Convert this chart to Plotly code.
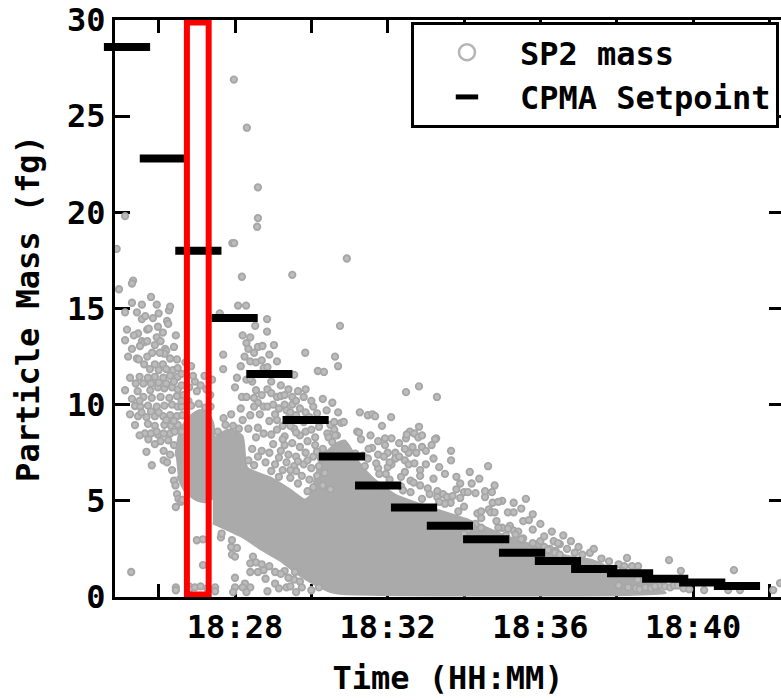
import plotly.graph_objects as go

# Time is expressed in minutes after 18:00
tick_vals = [26, 28, 30, 32, 34, 36, 38, 40, 42]
tick_text = ["", "18:28", "", "18:32", "", "18:36", "", "18:40", ""]
y_ticks = [0, 5, 10, 15, 20, 25, 30]

# CPMA setpoints
cpma_time = [25.17, 26.11, 27.04, 27.99, 28.90, 29.85, 30.80, 31.75, 32.69,
             33.63, 34.58, 35.52, 36.46, 37.41, 38.35, 39.27, 40.24, 41.15]
cpma_mass = [28.6, 22.8, 18.0, 14.5, 11.6, 9.2, 7.3, 5.8, 4.65,
             3.7, 3.0, 2.3, 1.87, 1.46, 1.23, 0.95, 0.76, 0.57]

# Highlighted interval (red box)
box_time = [26.74, 27.31]
box_mass = [0.13, 29.87]

# Saturated (fully overlapping) regions of the SP2 cloud, outline (time, mass)
core_time = [27.42, 27.82, 28.18, 28.31, 28.92, 29.44, 29.83, 30.00, 30.12, 30.35, 30.62, 30.88,
             31.22, 31.59, 32.19, 33.11, 34.16, 35.07, 35.99, 36.65, 37.30, 37.82, 38.35,
             38.87, 39.19, 39.27, 30.75, 30.49, 30.04, 29.62, 29.18, 28.73, 28.21, 27.42]
core_mass = [8.16, 8.68, 8.37, 6.71, 6.19, 5.56, 5.04, 5.30, 6.30, 7.40, 7.90, 8.10,
             7.02, 6.19, 5.30, 4.63, 3.95, 3.17, 2.55, 2.13, 1.92, 1.51, 1.04,
             0.62, 0.30, 0.20, 0.20, 0.30, 0.73, 1.25, 1.92, 2.44, 3.12, 3.85]
left_time = [26.45, 26.55, 26.70, 26.90, 27.10, 27.30, 27.42, 27.42, 27.25, 27.00, 26.70, 26.50]
left_mass = [7.3, 8.5, 9.1, 9.5, 9.7, 9.5, 9.0, 5.2, 4.95, 5.05, 5.5, 6.3]

# Individual SP2 particles (time, mass)
sp2_outliers = [(27.97, 26.9), (28.31, 24.4), (28.6, 21.3), (28.6, 19.7), (28.58, 19.25),
                (27.93, 18.4), (27.98, 18.4), (30.93, 17.6), (28.18, 16.65), (29.5, 16.75),
                (25.12, 19.8), (24.9, 18.1), (25.33, 16.45), (25.28, 1.3), (26.45, 4.68)]
sp2_left = [(24.96, 16.0), (25.30, 16.3), (25.80, 15.6), (25.56, 15.2), (25.43, 14.8), (25.12, 14.8),
            (26.27, 14.9), (26.30, 15.1), (26.22, 14.35), (26.25, 14.2), (25.56, 14.45), (25.17, 13.9),
            (25.46, 13.7), (25.70, 13.9), (25.74, 13.95), (25.98, 14.05), (26.11, 13.75), (25.95, 13.5),
            (25.12, 13.35), (25.56, 13.3), (25.63, 13.25), (25.70, 13.3), (25.51, 13.05), (26.17, 12.9),
            (26.2, 12.8), (26.15, 12.65), (25.2, 12.5), (25.43, 12.4), (25.48, 12.35), (25.70, 12.5),
            (25.83, 12.7), (26.03, 12.7), (26.30, 12.4), (26.48, 12.35), (25.62, 12.1), (25.9, 12.1),
            (26.11, 12.1), (25.77, 11.85), (26.0, 11.8), (26.2, 11.85), (26.38, 11.8), (26.5, 11.9),
            (25.25, 11.4), (25.5, 11.45), (25.72, 11.4), (25.9, 11.45), (26.12, 11.4), (26.3, 11.5),
            (26.5, 11.45), (25.12, 10.75), (25.45, 10.7), (25.78, 10.75), (25.98, 10.9), (26.15, 10.85),
            (26.35, 10.9), (26.5, 10.8), (25.6, 10.4), (25.82, 10.35), (26.05, 10.4), (26.28, 10.35),
            (26.48, 10.45), (25.38, 9.93), (25.52, 9.9), (25.72, 9.95), (25.95, 9.9), (26.15, 9.95),
            (26.35, 10.0), (26.5, 9.9), (25.46, 9.4), (25.68, 9.35), (25.9, 9.4), (26.12, 9.4),
            (26.3, 9.45), (26.48, 9.4), (25.38, 8.94), (25.72, 9.0), (25.9, 8.9), (26.15, 8.95),
            (26.32, 8.9), (26.5, 8.95), (25.64, 8.5), (25.98, 8.45), (26.3, 8.5), (25.5, 8.4),
            (25.8, 8.5), (25.73, 8.2), (25.95, 8.6), (26.13, 8.5), (25.68, 7.55), (26.13, 7.6),
            (26.13, 7.1), (26.22, 7.0), (25.82, 6.85), (26.4, 6.05), (26.44, 5.8), (26.48, 5.35),
            (26.52, 5.1), (26.65, 10.5), (26.8, 10.9), (26.95, 11.2), (27.1, 11.0), (27.25, 10.8),
            (27.35, 10.5), (26.6, 9.9), (27.4, 11.3), (26.9, 11.5), (27.2, 11.5), (27.0, 10.7),
            (26.62, 9.45), (26.78, 10.2), (27.36, 9.9), (26.4, 7.9), (26.42, 8.6), (26.58, 4.95),
            (26.85, 9.95), (27.05, 10.05), (27.22, 9.85), (26.3, 7.4), (26.35, 6.6), (26.62, 5.05),
            (25.9, 7.95), (26.05, 8.1), (26.25, 8.15), (25.3, 12.9), (25.35, 13.6), (25.9, 13.1),
            (26.05, 13.3), (26.4, 13.0), (26.45, 13.6), (25.85, 14.5), (26.0, 14.75), (25.65, 14.6),
            (25.3, 15.3), (25.95, 15.2), (26.4, 11.2), (26.6, 11.0), (26.6, 11.6), (26.7, 12.2),
            (26.85, 12.0), (25.4, 11.1), (25.6, 11.1), (25.8, 11.1), (26.0, 11.15), (26.2, 11.1),
            (25.3, 10.3), (25.5, 10.2), (26.6, 10.2), (25.25, 9.5), (25.55, 9.6), (25.8, 9.65),
            (26.0, 9.6), (26.6, 8.6), (26.2, 9.2), (26.4, 9.15)]
sp2_upper = [(28.08, 15.15), (28.29, 15.15), (27.6, 14.75), (28.84, 14.45), (28.84, 13.8), (30.75, 14.1),
             (28.53, 14.1), (28.2, 13.6), (28.3, 13.2), (28.4, 13.5), (28.35, 12.9), (28.6, 13.0),
             (28.72, 13.05), (29.02, 13.1), (27.69, 12.6), (27.69, 11.85), (28.4, 12.25), (28.55, 12.2),
             (28.7, 12.3), (29.1, 12.25), (28.75, 11.9), (28.85, 11.95), (29.84, 12.7), (30.17, 11.75),
             (30.33, 11.7), (30.62, 12.5), (30.7, 12.0), (29.55, 11.55), (28.3, 11.3), (28.45, 11.2),
             (28.4, 11.35), (28.85, 10.8), (28.95, 10.6), (29.1, 10.4), (29.2, 10.45), (29.3, 10.5),
             (29.5, 10.4), (29.65, 10.7), (29.85, 10.8), (29.8, 10.4), (30.3, 10.3), (28.18, 10.4),
             (28.3, 10.4), (28.5, 10.35), (28.6, 10.1), (28.75, 9.9), (28.85, 9.9), (28.5, 9.9),
             (28.4, 9.45), (28.65, 9.5), (28.2, 9.2), (29.3, 10.0), (29.5, 10.0), (29.35, 9.7),
             (29.7, 9.8), (29.85, 9.6), (30.05, 9.9), (30.3, 9.2), (30.5, 8.95), (30.6, 9.1),
             (29.4, 9.3), (29.8, 9.1), (29.1, 9.2), (29.25, 8.9), (28.35, 8.75), (28.6, 8.8),
             (29.1, 8.7), (29.55, 8.75), (29.85, 8.6), (30.42, 8.5), (30.6, 8.7), (28.95, 8.45),
             (29.3, 8.35), (29.7, 8.4), (30.1, 8.3), (30.45, 8.3), (30.67, 8.4), (29.3, 7.9),
             (29.5, 8.0), (29.7, 7.8), (29.9, 8.1), (30.1, 7.9), (30.3, 7.7), (29.4, 7.4),
             (29.6, 7.3), (29.85, 7.5), (30.05, 7.3), (30.25, 7.2), (29.55, 6.8), (29.8, 6.9),
             (30.0, 6.7), (30.2, 6.8), (29.75, 6.3), (29.95, 6.1), (30.15, 6.3), (30.05, 5.7),
             (30.3, 5.8), (29.2, 7.6), (29.0, 7.95), (30.45, 7.4), (28.6, 7.3), (28.8, 7.0),
             (29.05, 6.9), (28.45, 7.7), (29.25, 6.6), (29.45, 6.2), (29.65, 5.9), (28.9, 7.5),
             (29.15, 7.25), (29.35, 7.0), (28.7, 7.6), (29.6, 6.55), (29.9, 5.5), (28.35, 7.1),
             (28.5, 6.85), (27.75, 8.95), (27.95, 8.9), (28.1, 8.75), (27.55, 8.6), (30.5, 5.6),
             (29.45, 9.6), (29.6, 9.45), (29.95, 9.35), (30.15, 9.55), (30.4, 9.7), (30.2, 8.85),
             (30.0, 8.7), (29.6, 8.55), (29.45, 8.9), (29.05, 9.5), (28.9, 9.15), (29.15, 9.8),
             (28.75, 8.5), (28.55, 8.3), (29.6, 10.2), (30.0, 10.2), (30.55, 10.1), (30.7, 9.6),
             (29.0, 10.0), (28.95, 11.2), (29.2, 11.0), (29.4, 10.8), (28.6, 11.6), (28.9, 12.6),
             (28.5, 12.7), (28.25, 12.5), (28.15, 12.0), (28.05, 11.4), (28.0, 10.9), (28.15, 9.8),
             (27.9, 9.5), (27.7, 9.3), (28.55, 10.75), (28.7, 10.5), (29.9, 7.1), (30.15, 7.55),
             (30.35, 6.45), (29.25, 8.2), (30.55, 8.05), (29.65, 7.05), (29.45, 6.6), (29.15, 6.25),
             (28.95, 6.55)]
sp2_right = [(32.48, 10.65), (32.82, 10.95), (33.29, 10.4), (31.27, 9.6), (31.48, 9.45), (31.6, 9.5),
             (31.67, 9.4), (32.09, 9.35), (31.85, 8.9), (30.78, 9.05), (30.85, 9.1), (31.2, 8.6),
             (31.25, 8.55), (30.62, 8.4), (32.58, 8.6), (32.7, 8.5), (32.8, 8.3), (32.82, 8.85),
             (31.93, 8.25), (32.1, 8.25), (32.48, 8.25), (33.27, 8.25), (31.93, 7.9), (32.5, 8.45),
             (32.9, 8.4), (33.24, 8.2), (31.59, 7.75), (32.0, 7.5), (32.2, 7.5), (32.2, 7.2),
             (32.1, 6.9), (32.0, 6.75), (32.55, 7.5), (32.75, 7.5), (32.45, 7.1), (32.55, 6.9),
             (32.7, 6.95), (32.85, 6.6), (32.85, 6.3), (33.66, 7.6), (33.66, 7.1), (34.63, 6.8),
             (31.48, 7.2), (31.75, 6.7), (31.78, 6.4), (31.95, 6.4), (32.05, 6.1), (32.35, 6.25),
             (32.45, 6.5), (32.6, 6.05), (32.68, 5.95), (32.85, 5.8), (32.35, 5.75), (33.2, 6.15),
             (33.05, 5.65), (33.3, 5.5), (33.45, 5.35), (33.55, 5.2), (33.7, 5.25), (33.3, 5.2),
             (33.1, 5.35), (33.8, 5.6), (34.0, 5.45), (34.1, 5.45), (33.9, 5.15), (33.65, 4.9),
             (34.0, 4.7), (34.35, 4.35), (34.45, 4.45), (34.55, 5.2), (34.73, 5.45), (34.65, 4.55),
             (34.7, 4.4), (34.8, 4.4), (34.75, 4.9), (35.15, 4.4), (35.55, 3.95), (35.62, 5.1),
             (35.2, 3.7), (35.3, 3.45), (35.1, 3.2), (35.0, 3.6), (35.15, 3.55), (35.42, 3.4),
             (35.55, 3.05), (35.5, 3.0), (35.95, 2.75), (36.1, 2.6), (36.25, 2.5), (36.35, 2.9),
             (36.4, 2.4), (35.85, 2.35), (34.3, 3.8), (34.45, 3.6), (34.2, 3.7), (34.1, 3.5),
             (34.0, 3.3), (36.51, 2.75), (36.38, 2.3), (36.51, 2.2), (34.3, 5.4), (34.55, 5.5),
             (35.3, 4.4), (35.7, 4.0), (36.46, 2.8), (31.5, 7.7), (31.75, 7.4), (32.05, 7.0),
             (32.3, 7.3), (32.9, 7.8), (33.0, 7.6), (33.15, 7.9), (36.7, 2.5), (36.9, 2.3),
             (37.1, 2.2), (37.3, 2.3), (37.6, 2.0), (37.8, 1.85), (38.05, 1.7), (31.35, 7.35),
             (31.7, 6.95), (32.4, 5.55), (32.9, 5.1), (33.5, 4.85), (33.85, 4.45), (34.45, 4.1),
             (34.9, 3.6), (35.35, 3.25), (35.8, 2.8), (36.2, 2.45), (33.35, 4.95), (32.6, 5.45),
             (34.85, 3.95), (36.0, 2.9), (31.15, 7.45), (31.4, 6.8), (31.3, 8.2), (31.55, 8.4),
             (31.75, 8.1), (32.3, 8.0), (32.65, 7.8), (31.9, 7.3), (32.45, 7.7), (33.5, 6.4),
             (33.35, 6.75), (33.8, 6.25), (33.9, 5.9), (34.2, 5.9), (34.4, 6.15), (34.8, 5.8),
             (35.0, 5.0), (35.3, 4.9), (35.5, 4.6), (35.8, 4.3), (36.0, 3.8), (36.3, 3.4),
             (36.6, 3.2), (36.8, 2.9), (37.0, 2.6), (37.4, 2.5), (33.0, 6.9), (33.2, 7.2),
             (34.15, 6.5), (34.9, 4.95), (35.8, 3.5), (36.1, 3.15)]
sp2_far = [(38.27, 2.03), (38.2, 1.6), (38.4, 1.6), (38.56, 1.6), (39.37, 1.92), (39.68, 1.36),
           (41.07, 1.4), (39.26, 0.55), (39.1, 0.6), (39.4, 0.5), (39.5, 0.6), (39.6, 0.6),
           (38.5, 0.45), (38.6, 0.4), (38.75, 0.5), (38.9, 0.45), (39.0, 0.55), (38.3, 0.5),
           (38.05, 0.6), (40.29, 0.36), (40.92, 0.36), (41.23, 0.36), (42.1, 0.36), (42.28, 0.72),
           (38.0, 1.2), (38.55, 0.9), (38.7, 1.1), (39.75, 0.45), (39.9, 0.4), (38.15, 1.35),
           (38.45, 1.2), (38.85, 0.85), (39.2, 0.85)]
sp2_low = [(27.0, 2.95), (27.16, 3.0), (27.16, 1.66), (26.45, 0.5), (26.45, 0.35), (26.8, 0.55),
           (26.8, 0.4), (26.95, 0.5), (27.1, 0.55), (27.27, 0.45), (27.48, 0.5), (27.48, 0.3),
           (27.63, 3.1), (27.65, 3.3), (27.92, 2.95), (27.9, 2.6), (28.05, 2.55), (27.92, 2.2),
           (28.0, 2.1), (28.47, 2.1), (28.4, 1.75), (28.55, 1.8), (28.7, 1.7), (28.6, 1.3),
           (28.4, 1.3), (28.0, 1.0), (28.0, 0.5), (27.95, 0.25), (28.26, 0.7), (28.2, 0.5),
           (28.4, 0.5), (28.3, 0.25), (28.8, 0.95), (29.05, 0.7), (29.15, 0.45), (29.35, 0.5),
           (29.55, 0.9), (29.7, 0.8), (29.75, 0.5), (29.45, 0.55), (29.05, 1.3), (29.3, 1.35),
           (29.57, 1.3), (28.9, 1.6), (29.2, 1.2), (29.4, 1.0), (28.75, 1.4), (30.0, 0.35),
           (30.2, 0.5), (28.85, 0.3), (29.6, 0.25)]

sp2_points = sp2_outliers + sp2_left + sp2_upper + sp2_right + sp2_far + sp2_low
sp2_time = [p[0] for p in sp2_points]
sp2_mass = [p[1] for p in sp2_points]

GRAY = "#aaaaaa"
FONT = dict(family="DejaVu Sans Mono", size=32, color="black", weight="bold")

fig = go.Figure()
for px, py in ((core_time, core_mass), (left_time, left_mass)):
    fig.add_trace(go.Scatter(x=px, y=py, mode="lines", fill="toself", fillcolor=GRAY,
                             line=dict(color=GRAY, width=3, shape="spline", smoothing=0.6),
                             showlegend=False, hoverinfo="skip"))
fig.add_trace(go.Scatter(x=sp2_time, y=sp2_mass, mode="markers", showlegend=False,
                         marker=dict(symbol="circle", size=6.5, color="#bcbcbc",
                                     line=dict(color="#a6a6a6", width=1.8))))
fig.add_trace(go.Scatter(x=[None], y=[None], mode="markers", name="SP2 mass", yaxis="y2",
                         marker=dict(symbol="circle-open", size=16, color="#b4b4b4",
                                     line=dict(color="#b4b4b4", width=2.5))))
fig.add_trace(go.Scatter(x=cpma_time, y=cpma_mass, mode="markers", name="CPMA Setpoint",
                         cliponaxis=False,
                         marker=dict(symbol="line-ew", size=33, color="black",
                                     line=dict(color="black", width=8))))

fig.add_shape(type="rect", xref="x", yref="y", x0=box_time[0], x1=box_time[1],
              y0=box_mass[0], y1=box_mass[1], line=dict(color="#ff0000", width=6), layer="above")

axis_common = dict(ticks="inside", tickwidth=3, tickcolor="black", showgrid=False,
                   zeroline=False, tickfont=FONT, layer="below traces")
fig.update_layout(
    width=781, height=700,
    margin=dict(l=115, r=0, t=20, b=103, autoexpand=False),
    paper_bgcolor="white", plot_bgcolor="white",
    font=FONT,
    xaxis=dict(range=[24.856, 42.304], tickvals=tick_vals, ticktext=tick_text, ticklen=13,
               showline=True, linewidth=3, linecolor="black", mirror="ticks", automargin=False,
               title=dict(text="Time (HH:MM)", font=FONT, standoff=22), **axis_common),
    yaxis=dict(range=[0, 30], tickvals=y_ticks, ticklen=15, automargin=False,
               showline=True, linewidth=3, linecolor="black", mirror=False,
               title=dict(text="Particle Mass (fg)", font=FONT, standoff=18), **axis_common),
    yaxis2=dict(range=[0, 30], tickvals=y_ticks, ticklen=12, overlaying="y", side="right",
                showline=False, showticklabels=False, automargin=False, **axis_common),
    legend=dict(x=0.4444, y=0.9965, xanchor="left", yanchor="top", bgcolor="white",
                bordercolor="black", borderwidth=3, font=FONT, itemwidth=96,
                traceorder="normal"),
)
fig.write_html("out.html")
